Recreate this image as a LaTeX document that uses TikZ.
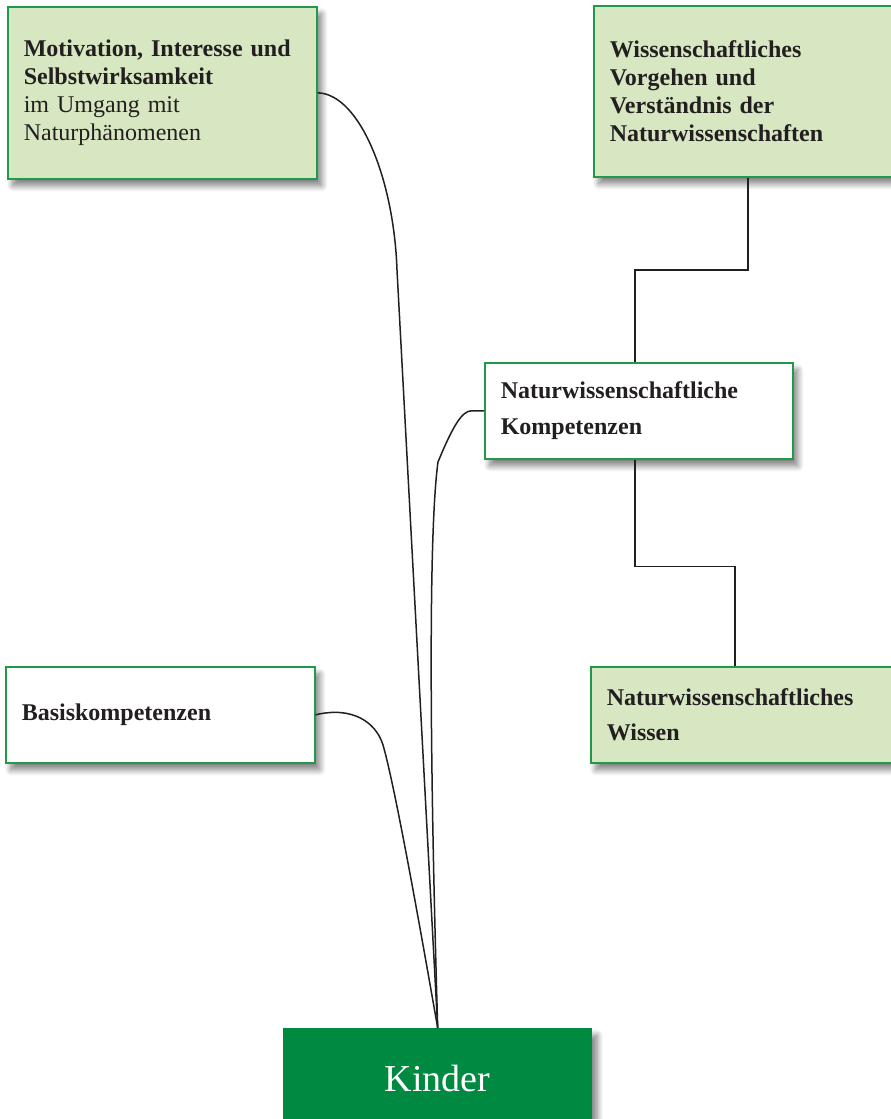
\documentclass[tikz,border=0pt]{standalone}
\usepackage{fontspec}
\setmainfont{Liberation Serif}
\usetikzlibrary{calc,shadows.blur}
\definecolor{leaf}{HTML}{D6E7C1}
\definecolor{rim}{HTML}{1F9A4B}
\definecolor{deep}{HTML}{008A41}
\definecolor{ink}{HTML}{231F20}
\tikzset{
  softshadow/.style={blur shadow={shadow xshift=5pt, shadow yshift=-7pt,
    shadow blur radius=6pt, shadow blur steps=10, shadow opacity=50}},
  box/.style={draw=rim, line width=1.6pt, anchor=north west, inner xsep=16pt,
    align=left, text=ink, font=\fontsize{24}{28}\selectfont, softshadow},
  greenbox/.style={box, fill=leaf},
  whitebox/.style={box, fill=white},
  link/.style={draw=ink, line width=1.5pt},
}
\begin{document}
\begin{tikzpicture}[x=1pt, y=-1pt]
\useasboundingbox (0,0) rectangle (891,1119);

\node[greenbox, minimum width=309pt, minimum height=172pt, text width=277pt] (mot) at (7,6)
  {\textbf{Motivation, Interesse und}\\\textbf{Selbstwirksamkeit}\\im Umgang mit\\Naturphänomenen};
\node[greenbox, minimum width=308pt, minimum height=171pt, text width=276pt] (sci) at (593,5)
  {\textbf{Wissenschaftliches}\\\textbf{Vorgehen und}\\\textbf{Verständnis der}\\\textbf{Naturwissenschaften}};
\node[whitebox, minimum width=308pt, minimum height=96pt, text width=276pt,
  font=\fontsize{24}{36}\selectfont] (komp) at (484,362)
  {\textbf{Naturwissenschaftliche}\\\textbf{Kompetenzen}};
\node[whitebox, minimum width=309pt, minimum height=96pt, text width=277pt] (basis) at (5,666)
  {\textbf{Basiskompetenzen}};
\node[greenbox, minimum width=308pt, minimum height=96pt, text width=276pt,
  font=\fontsize{24}{35}\selectfont] (wissen) at (590,666)
  {\textbf{Naturwissenschaftliches}\\\textbf{Wissen}};
\node[fill=deep, anchor=north west, minimum width=309pt, minimum height=100pt, text=white,
  font=\fontsize{38}{42}\selectfont, softshadow] (kind) at (283,1028)
  {\raisebox{-5pt}{Kinder}};

% stepped links from the competence box
\draw[link] (komp.north) ++(-4,0) -- ++(0,-92) -| (sci.south);
\draw[link] (komp.south) ++(-4,0) -- ++(0,107) -| ($(wissen.north)+(-10,0)$);

% curved links down to the children
\draw[link] (mot.east) .. controls (360,94) and (394,180) .. (397,270) -- (kind.north);
\draw[link] (komp.west) -- ++(-12,0) .. controls (462,410) and (452,428) .. (438,462)
  .. controls (430,520) and (428,700) .. (kind.north);
\draw[link] (basis.east) .. controls (352,706) and (376,722) .. (383,745)
  .. controls (396,790) and (424,950) .. (kind.north);
\end{tikzpicture}
\end{document}
